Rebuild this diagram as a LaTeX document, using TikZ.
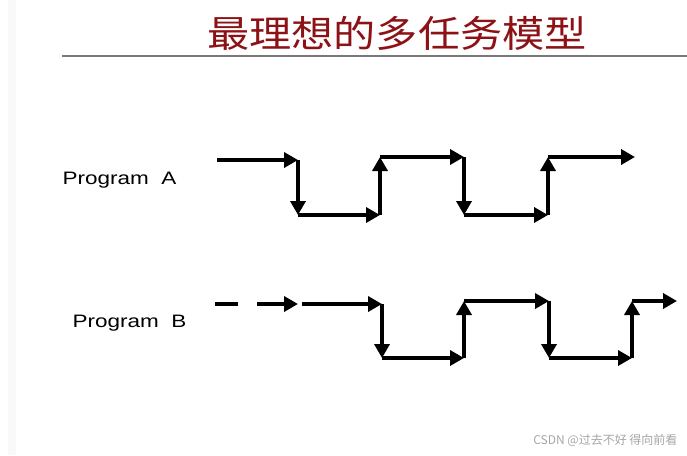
\documentclass[tikz,border=0pt]{standalone}
\usepackage{fontspec}
\usepackage{xcolor}
\usetikzlibrary{arrows.meta}
\setmainfont{Liberation Sans}
\newfontfamily\cjk{Noto Sans CJK SC}
\definecolor{titlered}{RGB}{140,18,22}
\definecolor{rulegray}{RGB}{120,120,120}
\definecolor{stripgray}{RGB}{249,249,249}

\begin{document}
\begin{tikzpicture}[x=1pt,y=-1pt,
  wave/.style={line width=4.8pt,-{Triangle[length=14pt,width=15pt]}},
  plain/.style={line width=4.8pt},
  proglabel/.style={font=\fontsize{18}{20}\selectfont,anchor=west}]
  \useasboundingbox (0,0) rectangle (687,455);
  \fill[stripgray] (8,0) rectangle (16,455);
  % title and rule
  \node[text=titlered,font=\cjk\fontsize{37}{40}\selectfont] (title) at (397,33) {\scalebox{1.14}[1]{最理想的多任务模型}};
  \draw[rulegray,line width=1.4pt] (62,56) -- (687,56);
  % labels
  \node[proglabel] (la) at (59,180) {\scalebox{1.25}[1]{Program\ \ A}};
  \node[proglabel] (lb) at (69,323) {\scalebox{1.25}[1]{Program\ \ B}};
  % program A
  \coordinate (a0) at (217,160);
  \coordinate (a1) at (298,160);
  \coordinate (a2) at (298,215);
  \coordinate (a3) at (380,215);
  \coordinate (a4) at (380,157);
  \coordinate (a5) at (464,157);
  \coordinate (a6) at (464,215);
  \coordinate (a7) at (548,215);
  \coordinate (a8) at (548,157);
  \coordinate (a9) at (635,157);
  \foreach \i [count=\j] in {0,...,8}
    \draw[wave] (a\i) -- (a\j);
  % program B
  \coordinate (d0) at (215,304);
  \coordinate (d1) at (238,304);
  \coordinate (d2) at (257,304);
  \coordinate (d3) at (298,304);
  \draw[plain] (d0) -- (d1);
  \draw[wave] (d2) -- (d3);
  \coordinate (b0) at (302,304);
  \coordinate (b1) at (382,304);
  \coordinate (b2) at (382,358);
  \coordinate (b3) at (464,358);
  \coordinate (b4) at (464,301);
  \coordinate (b5) at (549,301);
  \coordinate (b6) at (549,358);
  \coordinate (b7) at (632,358);
  \coordinate (b8) at (632,301);
  \coordinate (b9) at (677,301);
  \foreach \i [count=\j] in {0,...,8}
    \draw[wave] (b\i) -- (b\j);
  % watermark
  \node[text=black!35,font=\cjk\fontsize{12}{14}\selectfont,anchor=east] (mark) at (681,440) {CSDN @过去不好 得向前看};
\end{tikzpicture}
\end{document}
